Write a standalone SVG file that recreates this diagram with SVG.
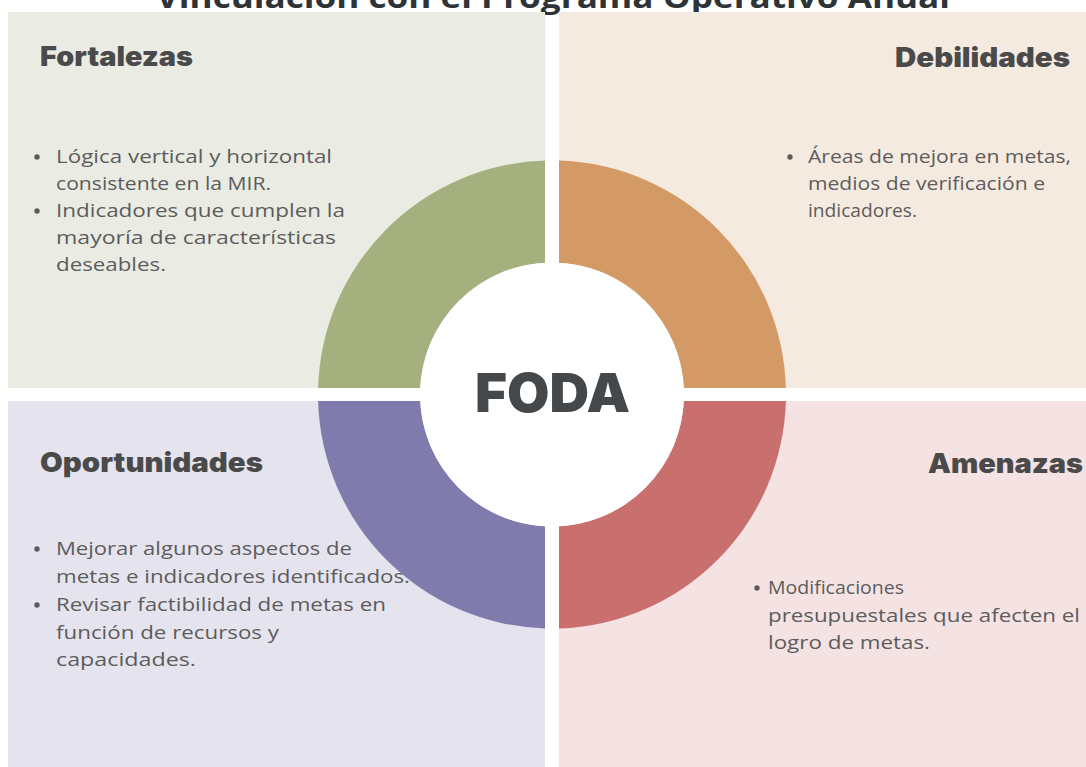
<svg xmlns="http://www.w3.org/2000/svg" width="1086" height="767" viewBox="0 0 1086 767">
<style>
.title{font-family:"Open Sans","Liberation Sans",sans-serif;font-weight:700;font-size:31px;fill:#2e3338}
.head{font-family:Inter,Lato,"Open Sans","Liberation Sans",sans-serif;font-weight:900;font-size:27px;fill:#4a4a4a}
.body{font-family:"Open Sans","Liberation Sans",sans-serif;font-weight:400;font-size:18.5px;fill:#5c5c5c}
.dot{fill:#5c5c5c}
.foda{font-family:Inter,Lato,"Open Sans","Liberation Sans",sans-serif;font-weight:900;font-size:54px;fill:#45484b}
</style>
<rect x="0" y="0" width="1086" height="767" fill="#ffffff"/>
<text class="title" x="156" y="7.5" textLength="794" lengthAdjust="spacingAndGlyphs">Vinculación con el Programa Operativo Anual</text>
<g id="fortalezas">
<rect x="8" y="12" width="537" height="376" fill="#eaece4"/>
<text class="head" x="40" y="66" textLength="153" lengthAdjust="spacingAndGlyphs">Fortalezas</text>
<circle class="dot" cx="37" cy="157" r="2.7"/>
<text class="body" x="56" y="163" textLength="276" lengthAdjust="spacingAndGlyphs">Lógica vertical y horizontal</text>
<text class="body" x="56" y="190" textLength="215" lengthAdjust="spacingAndGlyphs">consistente en la MIR.</text>
<circle class="dot" cx="37" cy="211" r="2.7"/>
<text class="body" x="56" y="217" textLength="289" lengthAdjust="spacingAndGlyphs">Indicadores que cumplen la</text>
<text class="body" x="56" y="244" textLength="280" lengthAdjust="spacingAndGlyphs">mayoría de características</text>
<text class="body" x="56" y="271" textLength="110" lengthAdjust="spacingAndGlyphs">deseables.</text>
</g>
<g id="debilidades">
<rect x="559" y="12" width="527" height="376" fill="#f5eae0"/>
<text class="head" x="1070" y="67" text-anchor="end" textLength="175" lengthAdjust="spacingAndGlyphs">Debilidades</text>
<circle class="dot" cx="790" cy="157" r="2.7"/>
<text class="body" x="808" y="163" textLength="263" lengthAdjust="spacingAndGlyphs">Áreas de mejora en metas,</text>
<text class="body" x="808" y="190" textLength="237" lengthAdjust="spacingAndGlyphs">medios de verificación e</text>
<text class="body" x="808" y="217" textLength="109" lengthAdjust="spacingAndGlyphs">indicadores.</text>
</g>
<g id="oportunidades">
<rect x="8" y="401" width="537" height="366" fill="#e5e4ee"/>
<text class="head" x="40" y="472" textLength="223" lengthAdjust="spacingAndGlyphs">Oportunidades</text>
<circle class="dot" cx="37" cy="549" r="2.7"/>
<text class="body" x="56" y="555" textLength="296" lengthAdjust="spacingAndGlyphs">Mejorar algunos aspectos de</text>
<text class="body" x="56" y="583" textLength="354" lengthAdjust="spacingAndGlyphs">metas e indicadores identificados.</text>
<circle class="dot" cx="37" cy="605" r="2.7"/>
<text class="body" x="56" y="611" textLength="330" lengthAdjust="spacingAndGlyphs">Revisar factibilidad de metas en</text>
<text class="body" x="56" y="639" textLength="223" lengthAdjust="spacingAndGlyphs">función de recursos y</text>
<text class="body" x="56" y="666" textLength="140" lengthAdjust="spacingAndGlyphs">capacidades.</text>
</g>
<g id="amenazas">
<rect x="559" y="401" width="527" height="366" fill="#f5e3e3"/>
<text class="head" x="1083" y="473" text-anchor="end" textLength="155" lengthAdjust="spacingAndGlyphs">Amenazas</text>
<circle class="dot" cx="757" cy="588" r="2.7"/>
<text class="body" x="768" y="594" textLength="136" lengthAdjust="spacingAndGlyphs">Modificaciones</text>
<text class="body" x="768" y="622" textLength="312" lengthAdjust="spacingAndGlyphs">presupuestales que afecten el</text>
<text class="body" x="768" y="649" textLength="162" lengthAdjust="spacingAndGlyphs">logro de metas.</text>
</g>
<g id="ring">
<path id="ring-f" d="M 318.1,388 A 234 234 0 0 1 545,160.6 L 545,262.7 A 132 132 0 0 0 420.2,388 Z" fill="#a4b07e"/>
<path id="ring-d" d="M 559,160.6 A 234 234 0 0 1 785.9,388 L 683.8,388 A 132 132 0 0 0 559,262.7 Z" fill="#d49a65"/>
<path id="ring-a" d="M 785.9,401 A 234 234 0 0 1 559,628.4 L 559,526.3 A 132 132 0 0 0 683.8,401 Z" fill="#c9706f"/>
<path id="ring-o" d="M 545,628.4 A 234 234 0 0 1 318.1,401 L 420.2,401 A 132 132 0 0 0 545,526.3 Z" fill="#7f7bac"/>
</g>
<g id="foda">
<circle cx="552" cy="394.5" r="132" fill="#ffffff"/>
<text class="foda" x="552.5" y="412" text-anchor="middle" textLength="155" lengthAdjust="spacingAndGlyphs">FODA</text>
</g>
<g id="connectors"/>
</svg>
